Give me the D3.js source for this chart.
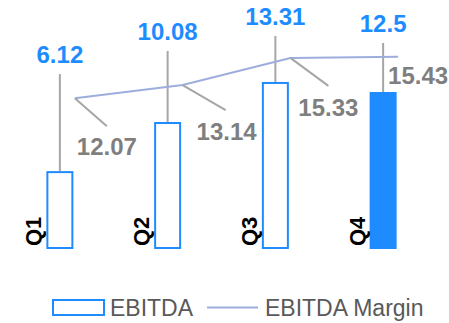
<!DOCTYPE html>
<html>
<head>
<meta charset="utf-8">
<script src="https://cdn.jsdelivr.net/npm/d3@7"></script>
<style>
    body { margin: 0; background: #fff; }
    svg { display: block; font-family: "Liberation Sans", Arial, sans-serif; }
</style>
</head>
<body>
<svg id="chart" width="449" height="323"></svg>
<script>
// Chart data
const quarters = ["Q1", "Q2", "Q3", "Q4"];
const ebitda = [6.12, 10.08, 13.31, 12.5];
const ebitdaMargin = [12.07, 13.14, 15.33, 15.43];

// Label placement (moved by hand in the original)
const ebitdaLabelDy = [109, 83, 58, 61];
const marginLeader = [[32, 28], [43, 25], [38, 28], null];
const marginLabelPos = [[32, 57], [44, 55], [38, 58], [20, 27]];

const blue = "#1E8CFF";
const grey = "#7F7F7F";
const lineColor = "#9DAEDD";
const leaderColor = "#A6A6A6";

let svg = d3.select("#chart");

let x = d3.scaleBand()
    .domain(quarters)
    .range([6, 437])
    .paddingInner(0.768)
    .paddingOuter(0.384);

let y = d3.scaleLinear()
    .domain([0, 20])
    .range([248, 0]);

let bw = x.bandwidth();
let lineX = (q) => x(q) + bw + 2.5;

// Bars
svg.append("g")
    .selectAll("rect")
    .data(quarters)
    .enter()
    .append("rect")
    .attr("x", (q) => x(q))
    .attr("y", (q, i) => y(ebitda[i]))
    .attr("width", bw)
    .attr("height", (q, i) => y(0) - y(ebitda[i]))
    .attr("fill", (q, i) => (i === 3 ? blue : "#fff"))
    .attr("stroke", blue)
    .attr("stroke-width", 2);

// Leader lines for the bar labels
svg.append("g")
    .selectAll("line")
    .data(quarters)
    .enter()
    .append("line")
    .attr("x1", (q) => x(q) + bw / 2)
    .attr("x2", (q) => x(q) + bw / 2)
    .attr("y1", (q, i) => y(ebitda[i]) - ebitdaLabelDy[i] + 11)
    .attr("y2", (q, i) => y(ebitda[i]) - 1)
    .attr("stroke", leaderColor)
    .attr("stroke-width", 2);

// Margin line
let line = d3.line()
    .x((d, i) => lineX(quarters[i]))
    .y((d) => y(d));

svg.append("path")
    .datum(ebitdaMargin)
    .attr("d", line)
    .attr("fill", "none")
    .attr("stroke", lineColor)
    .attr("stroke-width", 2);

// Leader lines for the margin labels
svg.append("g")
    .selectAll("line")
    .data(ebitdaMargin.filter((d, i) => marginLeader[i]))
    .enter()
    .append("line")
    .attr("x1", (d, i) => lineX(quarters[i]))
    .attr("y1", (d) => y(d))
    .attr("x2", (d, i) => lineX(quarters[i]) + marginLeader[i][0])
    .attr("y2", (d, i) => y(d) + marginLeader[i][1])
    .attr("stroke", leaderColor)
    .attr("stroke-width", 2);

// Bar value labels
svg.append("g")
    .selectAll("text")
    .data(ebitda)
    .enter()
    .append("text")
    .attr("x", (d, i) => x(quarters[i]) + bw / 2)
    .attr("y", (d, i) => y(d) - ebitdaLabelDy[i])
    .attr("text-anchor", "middle")
    .attr("font-size", 24)
    .attr("font-weight", "bold")
    .attr("fill", blue)
    .text((d) => d);

// Margin value labels
svg.append("g")
    .selectAll("text")
    .data(ebitdaMargin)
    .enter()
    .append("text")
    .attr("x", (d, i) => lineX(quarters[i]) + marginLabelPos[i][0])
    .attr("y", (d, i) => y(d) + marginLabelPos[i][1])
    .attr("text-anchor", "middle")
    .attr("font-size", 24)
    .attr("font-weight", "bold")
    .attr("fill", grey)
    .text((d) => d);

// Category labels, rotated
svg.append("g")
    .selectAll("text")
    .data(quarters)
    .enter()
    .append("text")
    .attr("transform", (q) => `translate(${x(q) - 6},${y(0) - 2}) rotate(-90)`)
    .attr("font-size", 22)
    .attr("font-weight", "bold")
    .attr("fill", "#000")
    .text((q) => q);

// Legend
let legend = svg.append("g");
legend.append("rect")
    .attr("x", 53).attr("y", 300)
    .attr("width", 51).attr("height", 15)
    .attr("fill", "#fff")
    .attr("stroke", blue)
    .attr("stroke-width", 2);
legend.append("text")
    .attr("x", 110).attr("y", 316)
    .attr("font-size", 23)
    .attr("fill", "#595959")
    .text("EBITDA");
legend.append("line")
    .attr("x1", 207).attr("x2", 258)
    .attr("y1", 307.5).attr("y2", 307.5)
    .attr("stroke", lineColor)
    .attr("stroke-width", 2);
legend.append("text")
    .attr("x", 265).attr("y", 316)
    .attr("font-size", 23)
    .attr("fill", "#595959")
    .text("EBITDA Margin");
</script>
</body>
</html>
